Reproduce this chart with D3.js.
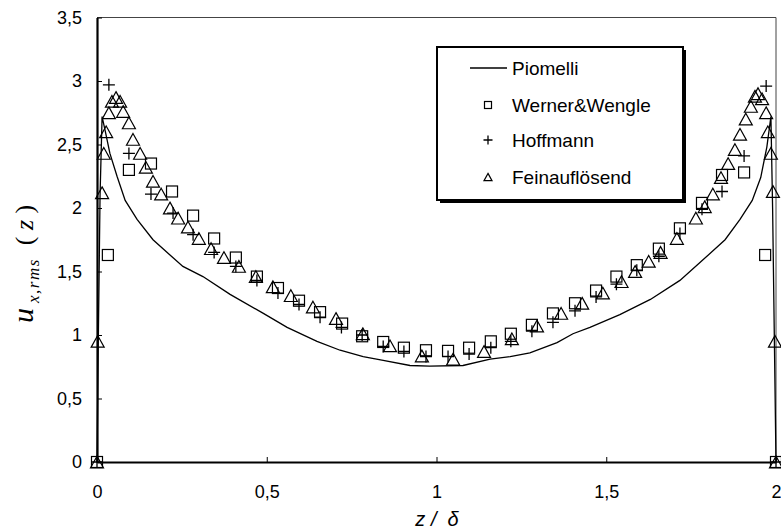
<!DOCTYPE html>
<html>
<head>
<meta charset="utf-8">
<script src="https://cdn.jsdelivr.net/npm/d3@7"></script>
<style>
  body { margin: 0; background: #fff; }
  svg { display: block; font-family: "Liberation Sans", Arial, sans-serif; }
</style>
</head>
<body>
<script>
var width = 781;
var height = 531;
var plot = {left: 97, right: 776, top: 17.5, bottom: 462};

// data, z/delta vs u_rms
var piomelliData = [[0,0],[0.004,1.0],[0.009,2.1],[0.015,2.72],[0.024,2.61],[0.038,2.43],[0.059,2.25],
  [0.083,2.06],[0.118,1.91],[0.165,1.75],[0.215,1.63],[0.253,1.54],[0.312,1.46],[0.392,1.32],[0.49,1.17],
  [0.56,1.06],[0.648,0.95],[0.716,0.88],[0.784,0.83],[0.843,0.80],[0.922,0.76],[0.98,0.755],[1.078,0.76],
  [1.158,0.81],[1.217,0.83],[1.275,0.86],[1.355,0.94],[1.402,1.01],[1.452,1.06],[1.54,1.16],[1.63,1.28],
  [1.717,1.43],[1.776,1.57],[1.85,1.75],[1.894,1.91],[1.93,2.06],[1.955,2.24],[1.973,2.48],[1.985,2.72],
  [1.99,2.0],[1.995,1.0],[2,0]];

var wernerData = [[0,0],[0.032,1.63],[0.094,2.30],[0.159,2.35],[0.221,2.13],[0.283,1.94],[0.345,1.76],
  [0.409,1.61],[0.471,1.46],[0.533,1.37],[0.595,1.27],[0.657,1.18],[0.722,1.09],[0.781,0.99],[0.843,0.945],
  [0.904,0.90],[0.969,0.88],[1.034,0.875],[1.096,0.90],[1.160,0.95],[1.219,1.01],[1.281,1.08],[1.343,1.17],
  [1.408,1.25],[1.47,1.35],[1.53,1.46],[1.59,1.55],[1.655,1.68],[1.717,1.84],[1.782,2.04],[1.841,2.26],
  [1.906,2.28],[1.968,1.63],[2,0]];

var hoffmannData = [[0,0],[0.035,2.97],[0.094,2.43],[0.159,2.11],[0.224,1.96],[0.283,1.79],[0.345,1.65],
  [0.409,1.54],[0.471,1.43],[0.533,1.33],[0.595,1.24],[0.657,1.14],[0.72,1.06],[0.781,1.00],[0.843,0.91],
  [0.904,0.87],[0.969,0.83],[1.034,0.83],[1.096,0.85],[1.16,0.90],[1.219,0.95],[1.281,1.03],[1.343,1.10],
  [1.408,1.19],[1.47,1.30],[1.53,1.40],[1.59,1.51],[1.655,1.62],[1.717,1.80],[1.782,1.99],[1.841,2.13],
  [1.906,2.41],[1.971,2.96],[2,0]];

var feinData = [[0,0],[0.002,0.95],[0.015,2.12],[0.02,2.43],[0.027,2.60],[0.035,2.75],[0.044,2.84],
  [0.056,2.87],[0.068,2.84],[0.077,2.76],[0.094,2.67],[0.106,2.54],[0.127,2.43],[0.144,2.32],[0.165,2.21],
  [0.189,2.11],[0.215,2.0],[0.239,1.92],[0.268,1.85],[0.30,1.76],[0.336,1.68],[0.374,1.61],[0.418,1.54],
  [0.468,1.46],[0.518,1.38],[0.571,1.31],[0.636,1.22],[0.704,1.13],[0.783,1.01],[0.863,0.915],[0.957,0.835],
  [1.049,0.81],[1.14,0.87],[1.222,0.97],[1.296,1.07],[1.367,1.17],[1.429,1.25],[1.49,1.33],[1.545,1.42],
  [1.585,1.50],[1.625,1.58],[1.66,1.65],[1.708,1.76],[1.764,1.92],[1.79,2.01],[1.814,2.11],[1.838,2.24],
  [1.859,2.35],[1.879,2.46],[1.894,2.58],[1.911,2.70],[1.926,2.80],[1.938,2.88],[1.947,2.90],[1.959,2.86],
  [1.971,2.75],[1.976,2.60],[1.985,2.43],[1.991,2.13],[1.997,0.95],[2,0]];

var xTicks = [0, 0.5, 1, 1.5, 2];
var yTicks = [0, 0.5, 1, 1.5, 2, 2.5, 3, 3.5];
var legendNames = ["Piomelli", "Werner&Wengle", "Hoffmann", "Feinauflösend"];

var svg = d3.select("body")
  .append("svg")
  .attr("width", width)
  .attr("height", height);

var x = d3.scaleLinear().domain([0, 2]).range([plot.left, plot.right]);
var y = d3.scaleLinear().domain([0, 3.5]).range([plot.bottom, plot.top]);

var comma = d => String(d).replace(".", ",");

// plot frame (top + right)
svg.append("path")
  .attr("d", "M" + plot.left + "," + plot.top + "H" + plot.right + "V" + plot.bottom)
  .attr("fill", "none")
  .attr("stroke", "#444")
  .attr("stroke-width", 1);

// axes
var xAxis = svg.append("g")
  .attr("transform", "translate(0," + plot.bottom + ")")
  .call(d3.axisBottom(x).tickValues(xTicks).tickFormat(comma)
    .tickSizeInner(-5).tickSizeOuter(0).tickPadding(22));

var yAxis = svg.append("g")
  .attr("transform", "translate(" + plot.left + ",0)")
  .call(d3.axisLeft(y).tickValues(yTicks).tickFormat(comma)
    .tickSizeInner(-5).tickSizeOuter(0).tickPadding(15));

[xAxis, yAxis].forEach(function(a) {
  a.select(".domain").attr("stroke", "#000").attr("stroke-width", 2.2);
  a.selectAll(".tick line").attr("stroke", "#000").attr("stroke-width", 1);
  a.selectAll("text")
    .attr("font-family", "Liberation Sans, Arial, sans-serif")
    .attr("font-size", 18)
    .attr("fill", "#000");
});
xAxis.selectAll("text").attr("dy", 0).attr("y", 36);

// Piomelli line
var line = d3.line().x(d => x(d[0])).y(d => y(d[1]));
svg.append("path")
  .datum(piomelliData)
  .attr("d", line)
  .attr("fill", "none")
  .attr("stroke", "#000")
  .attr("stroke-width", 1.3);

// markers
function squareMark(g, s) {
  g.append("rect").attr("x", -s/2).attr("y", -s/2).attr("width", s).attr("height", s)
    .attr("fill", "none").attr("stroke", "#000").attr("stroke-width", 1.2);
}
function plusMark(g, s) {
  g.append("path").attr("d", "M" + (-s/2) + ",0H" + (s/2) + "M0," + (-s/2) + "V" + (s/2))
    .attr("fill", "none").attr("stroke", "#000").attr("stroke-width", 1.3);
}
function triMark(g, s) {
  var h = s * 0.9;
  g.append("path").attr("d", "M0," + (-h/2) + "L" + (s/2) + "," + (h/2) + "L" + (-s/2) + "," + (h/2) + "Z")
    .attr("fill", "none").attr("stroke", "#000").attr("stroke-width", 1.2);
}

function drawPoints(data, fn, s) {
  svg.append("g").selectAll("g")
    .data(data)
    .enter()
    .append("g")
    .attr("transform", d => "translate(" + x(d[0]) + "," + y(d[1]) + ")")
    .each(function() { fn(d3.select(this), s); });
}
drawPoints(wernerData, squareMark, 11);
drawPoints(hoffmannData, plusMark, 12);
drawPoints(feinData, triMark, 13);

// legend
var legend = svg.append("g").attr("transform", "translate(437,47)");
legend.append("rect").attr("x", 3).attr("y", 3).attr("width", 246).attr("height", 153).attr("fill", "#000");
legend.append("rect").attr("x", 0).attr("y", 0).attr("width", 246).attr("height", 153)
  .attr("fill", "#fff").attr("stroke", "#000").attr("stroke-width", 2);

var rowY = [21, 58, 93, 130];
legend.append("line").attr("x1", 33).attr("x2", 70).attr("y1", rowY[0]).attr("y2", rowY[0])
  .attr("stroke", "#000").attr("stroke-width", 1.3);
squareMark(legend.append("g").attr("transform", "translate(51," + rowY[1] + ")"), 7);
plusMark(legend.append("g").attr("transform", "translate(51," + rowY[2] + ")"), 9);
triMark(legend.append("g").attr("transform", "translate(51," + rowY[3] + ")"), 8);

legend.selectAll("text.lg")
  .data(legendNames)
  .enter()
  .append("text")
  .attr("class", "lg")
  .attr("x", 75)
  .attr("y", (d, i) => rowY[i] + 6.5)
  .attr("font-size", 19)
  .attr("fill", "#000")
  .text(d => d);

// axis titles
svg.append("text")
  .attr("x", 437)
  .attr("y", 526)
  .attr("text-anchor", "middle")
  .attr("font-size", 20)
  .attr("font-style", "italic")
  .attr("xml:space", "preserve")
  .text("z /  δ");

var yl = svg.append("text")
  .attr("transform", "translate(33,323) rotate(-90)")
  .attr("font-family", "Liberation Serif, Times New Roman, serif")
  .attr("font-style", "italic")
  .attr("xml:space", "preserve");
yl.append("tspan").attr("font-size", 30).text("u");
yl.append("tspan").attr("font-size", 17).attr("dx", 5).attr("dy", 6).attr("letter-spacing", 1.5).text("x,rms");
yl.append("tspan").attr("font-size", 26).attr("dy", -6).attr("font-style", "normal").text("  ( ");
yl.append("tspan").attr("font-size", 26).text("z");
yl.append("tspan").attr("font-size", 26).attr("font-style", "normal").text(" )");
</script>
</body>
</html>
